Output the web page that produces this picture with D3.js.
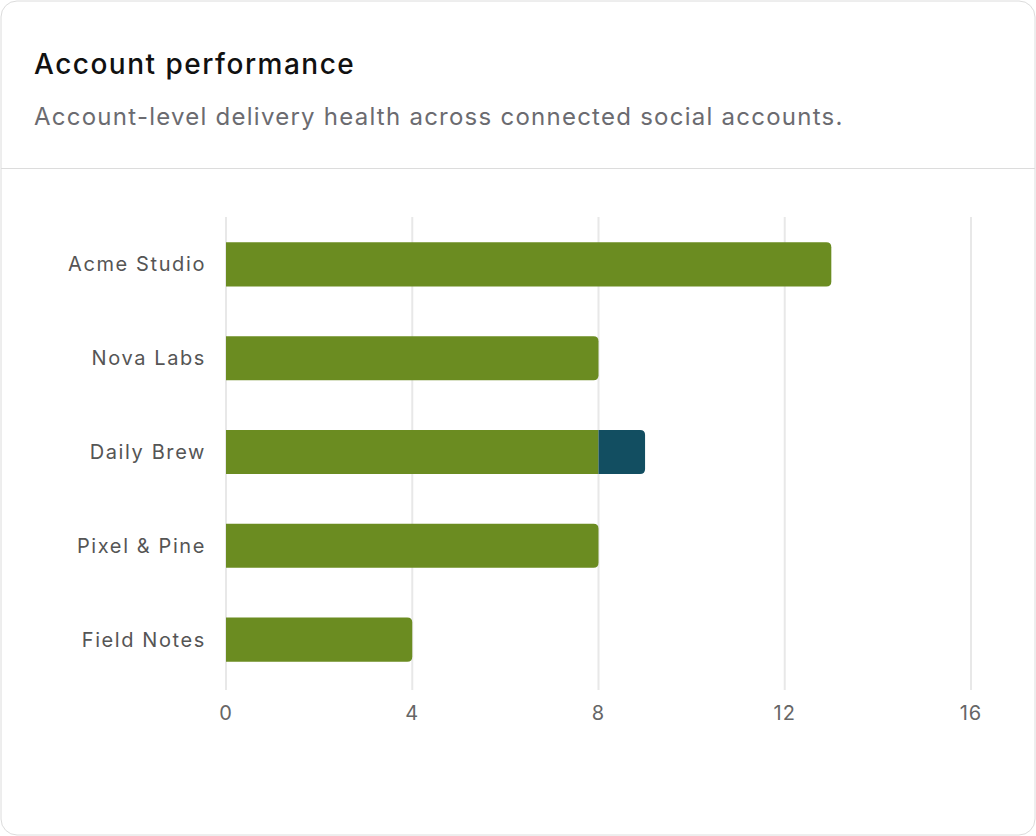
<!DOCTYPE html>
<html><head><meta charset="utf-8">
<script src="https://cdn.jsdelivr.net/npm/d3@7"></script>
<style>
body{margin:0;background:#fff;font-family:Inter,"Noto Sans",sans-serif;}
</style></head>
<body><svg id="chart" width="1036" height="836"></svg>
<script>
// chart data
var accounts = ["Acme Studio", "Nova Labs", "Daily Brew", "Pixel & Pine", "Field Notes"];
var delivered = [13, 8, 8, 8, 4];
var failed = [0, 0, 1, 0, 0];
var xTicks = [0, 4, 8, 12, 16];

var svg = d3.select("#chart");

// card
svg.append("rect").attr("x", 1).attr("y", 1).attr("width", 1034).attr("height", 834)
  .attr("rx", 16).attr("fill", "#fff").attr("stroke", "#dcdcdc");
svg.append("line").attr("x1", 1).attr("x2", 1035).attr("y1", 168.5).attr("y2", 168.5).attr("stroke", "#dcdcdc");

svg.append("text").attr("x", 34).attr("y", 74).attr("font-size", 28).attr("font-weight", 500)
  .attr("letter-spacing", 1.5).attr("fill", "#111").text("Account performance");
svg.append("text").attr("x", 34).attr("y", 125).attr("font-size", 24).attr("letter-spacing", 1.25)
  .attr("fill", "#6b6b70").text("Account-level delivery health across connected social accounts.");

var x = d3.scaleLinear().domain([0, 16]).range([226, 971]);
var y = d3.scaleBand().domain(accounts).range([217, 687]).paddingInner(0.53).paddingOuter(0.27);

// gridlines
svg.append("g").selectAll("line").data(xTicks).join("line")
  .attr("x1", d => x(d)).attr("x2", d => x(d)).attr("y1", 217).attr("y2", 690)
  .attr("stroke", "#e8e8e8").attr("stroke-width", 2);

// x axis labels
svg.append("g").selectAll("text").data(xTicks).join("text")
  .attr("x", d => x(d)).attr("y", 720).attr("text-anchor", "middle").attr("letter-spacing", 1)
  .attr("font-size", 20).attr("fill", "#666").text(d => d);

// y labels
svg.append("g").selectAll("text").data(accounts).join("text")
  .attr("x", 206).attr("y", d => y(d) + y.bandwidth() / 2 + 7).attr("text-anchor", "end")
  .attr("letter-spacing", 1.6).attr("font-size", 20).attr("fill", "#555").text(d => d);

// bars: rounded right end only on the last segment
function barPath(x0, x1, y0, h, r) {
  return "M" + x0 + "," + y0 + "H" + (x1 - r) + "Q" + x1 + "," + y0 + " " + x1 + "," + (y0 + r) +
    "V" + (y0 + h - r) + "Q" + x1 + "," + (y0 + h) + " " + (x1 - r) + "," + (y0 + h) + "H" + x0 + "Z";
}
accounts.forEach(function (a, i) {
  var y0 = y(a), h = y.bandwidth();
  var d1 = delivered[i], f = failed[i];
  svg.append("path").attr("fill", "#6b8c21")
    .attr("d", f > 0 ? barPath(x(0), x(d1), y0, h, 0) : barPath(x(0), x(d1), y0, h, 5));
  if (f > 0) {
    svg.append("path").attr("fill", "#124e61").attr("d", barPath(x(d1), x(d1 + f), y0, h, 5));
  }
});
</script></body></html>
